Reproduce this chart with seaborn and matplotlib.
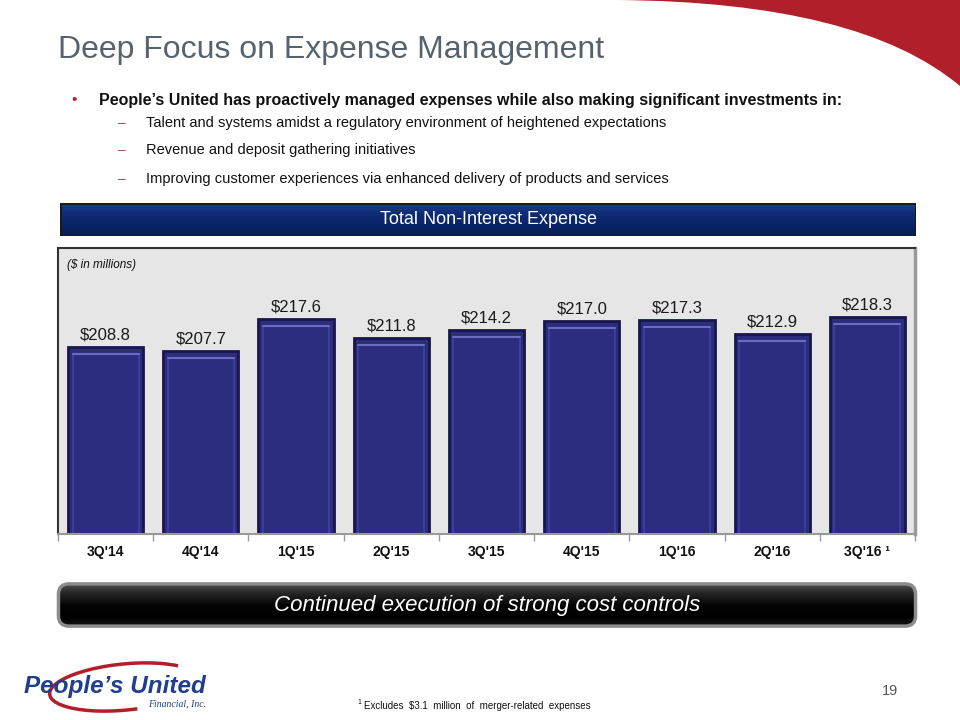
import numpy as np
import pandas as pd
import seaborn as sns
import matplotlib.pyplot as plt
from matplotlib.patches import Rectangle, FancyBboxPatch, PathPatch, Arc
from matplotlib.path import Path
from matplotlib.colors import LinearSegmentedColormap

quarters = ["3Q'14", "4Q'14", "1Q'15", "2Q'15", "3Q'15", "4Q'15", "1Q'16", "2Q'16", "3Q'16"]
tick_labels = ["3Q'14", "4Q'14", "1Q'15", "2Q'15", "3Q'15", "4Q'15", "1Q'16", "2Q'16", "3Q'16 \u00b9"]
expense = [208.8, 207.7, 217.6, 211.8, 214.2, 217.0, 217.3, 212.9, 218.3]

title = "Deep Focus on Expense Management"
bullet = "People\u2019s United has proactively managed expenses while also making significant investments in:"
sub_bullets = [
    "Talent and systems amidst a regulatory environment of heightened expectations",
    "Revenue and deposit gathering initiatives",
    "Improving customer experiences via enhanced delivery of products and services",
]
chart_title = "Total Non-Interest Expense"
unit_note = "($ in millions)"
takeaway = "Continued execution of strong cost controls"
footnote = "Excludes  $3.1  million  of  merger-related  expenses"


def fx(px):
    return px / 960


def fy(py):
    return 1 - py / 720


def banner(fig, left, top, width, height, colors, rounded):
    # banner drawn as a gradient image clipped to a box
    bax = fig.add_axes([fx(left), fy(top + height), fx(width), height / 720])
    bax.set_xlim(0, 1)
    bax.set_ylim(0, 1)
    bax.axis("off")
    cmap = LinearSegmentedColormap.from_list("band", colors)
    grad = np.linspace(0, 1, 64).reshape(-1, 1)
    img = bax.imshow(grad, cmap=cmap, aspect="auto", extent=(0, 1, 0, 1), origin="upper")
    if rounded:
        box = FancyBboxPatch((0.004, 0.06), 0.992, 0.88, boxstyle="round,pad=0,rounding_size=0.012",
                             mutation_aspect=18, transform=bax.transAxes, facecolor="none",
                             edgecolor="#8C8C8C", linewidth=2.5)
    else:
        box = Rectangle((0, 0), 1, 1, transform=bax.transAxes, facecolor="none",
                        edgecolor="#1A1A1A", linewidth=2)
    bax.add_patch(box)
    img.set_clip_path(box)
    return bax


def main():
    sns.set_theme(style="white")
    plt.rcParams['font.family'] = ['Liberation Sans', 'DejaVu Sans']

    fig = plt.figure(figsize=(9.6, 7.2), dpi=100)
    fig.patch.set_facecolor("white")

    # red swoosh, top right
    verts = [(fx(618), fy(0)), (fx(860), fy(2)), (fx(960), fy(86)),
             (fx(960), fy(0)), (fx(618), fy(0))]
    codes = [Path.MOVETO, Path.CURVE3, Path.CURVE3, Path.LINETO, Path.CLOSEPOLY]
    fig.patches.append(PathPatch(Path(verts, codes), transform=fig.transFigure,
                                 facecolor="#B01F2A", edgecolor="none"))

    fig.text(fx(58), fy(50), title, fontsize=23, color="#56626C", va="center")
    fig.text(fx(71), fy(100), "\u2022", fontsize=11, color="#B01F2A", va="center")
    fig.text(fx(99), fy(100), bullet, fontsize=11.5, fontweight="bold", color="#111111", va="center")
    for text, y in zip(sub_bullets, [123, 150, 179]):
        fig.text(fx(118), fy(y), "\u2013", fontsize=10, color="#A05058", va="center")
        fig.text(fx(146), fy(y), text, fontsize=10.5, color="#111111", va="center")

    # blue header banner
    bax = banner(fig, 60, 203, 856, 33, ["#1D3F8E", "#0E2C74", "#0A2466", "#081D55"], rounded=False)
    bax.text(0.5, 0.5, chart_title, transform=bax.transAxes, fontsize=13, color="white",
             ha="center", va="center")

    # chart
    ax = fig.add_axes([fx(58), fy(534), fx(857), (534 - 248) / 720])
    ax.set_facecolor("#E6E6E6")
    df = pd.DataFrame({"quarter": quarters, "expense": expense})
    sns.barplot(data=df, x="quarter", y="expense", color="#2C2D7E", width=0.79,
                edgecolor="#16174A", linewidth=2, saturation=1, ax=ax)
    for p in ax.patches:
        x0, w, h = p.get_x(), p.get_width(), p.get_height()
        ax.add_patch(Rectangle((x0 + w * 0.06, 150), w * 0.88, h - 150 - 2.2, fill=False,
                               edgecolor="#3F41A0", linewidth=1.2))
        ax.plot([x0 + w * 0.06, x0 + w * 0.94], [h - 2.2, h - 2.2], color="#6A6CC0", linewidth=1.5)
    ax.set_ylim(150, 240)
    ax.set_xlim(-0.5, len(quarters) - 0.5)
    for i, v in enumerate(expense):
        ax.text(i, v + 1.4, f"${v:.1f}", ha="center", va="bottom", fontsize=12, color="#1A1A1A")
    ax.set_xticks(range(len(quarters)))
    ax.set_xticklabels(tick_labels, fontweight="bold", fontsize=10, color="#111111")
    ax.set_xticks(np.arange(len(quarters) + 1) - 0.5, minor=True)
    ax.tick_params(axis="x", which="major", length=0, pad=8)
    ax.tick_params(axis="x", which="minor", length=5, color="#999999", bottom=True)
    ax.set_yticks([])
    ax.set_xlabel("")
    ax.set_ylabel("")
    ax.text(0.01, 0.94, unit_note, transform=ax.transAxes, fontsize=8.5, style="italic",
            color="#111111", va="center")
    ax.spines["top"].set_color("#333333")
    ax.spines["top"].set_linewidth(1.5)
    ax.spines["right"].set_color("#9A9A9A")
    ax.spines["right"].set_linewidth(2.5)
    ax.spines["left"].set_color("#333333")
    ax.spines["left"].set_linewidth(1.5)
    ax.spines["bottom"].set_color("#999999")
    ax.spines["bottom"].set_linewidth(1.5)

    # black takeaway banner
    kax = banner(fig, 55, 581, 864, 48, ["#5A5A5A", "#262626", "#050505", "#000000", "#1A1A1A"],
                 rounded=True)
    kax.text(0.5, 0.5, takeaway, transform=kax.transAxes, fontsize=16, style="italic",
             color="white", ha="center", va="center")

    # logo
    fig.patches.append(Arc((fx(125), fy(687)), fx(152), 46 / 720, angle=8, theta1=20, theta2=285,
                           transform=fig.transFigure, color="#B01F2A", linewidth=2.5))
    fig.text(fx(24), fy(686), "People\u2019s United", fontsize=17.5, fontweight="bold", style="italic",
             color="#1F3F8C", va="center")
    fig.text(fx(148), fy(704), "Financial, Inc.", fontsize=7, style="italic", family="Liberation Serif",
             color="#1F3F8C", va="center")

    fig.text(fx(357), fy(702), "1", fontsize=5, color="#111111", va="center")
    fig.text(fx(364), fy(706), footnote, fontsize=7, color="#111111", va="center")
    fig.text(fx(890), fy(691), "19", fontsize=10.5, color="#555555", ha="center", va="center")

    plt.savefig("out.png", dpi=100)


if __name__ == "__main__":
    main()
